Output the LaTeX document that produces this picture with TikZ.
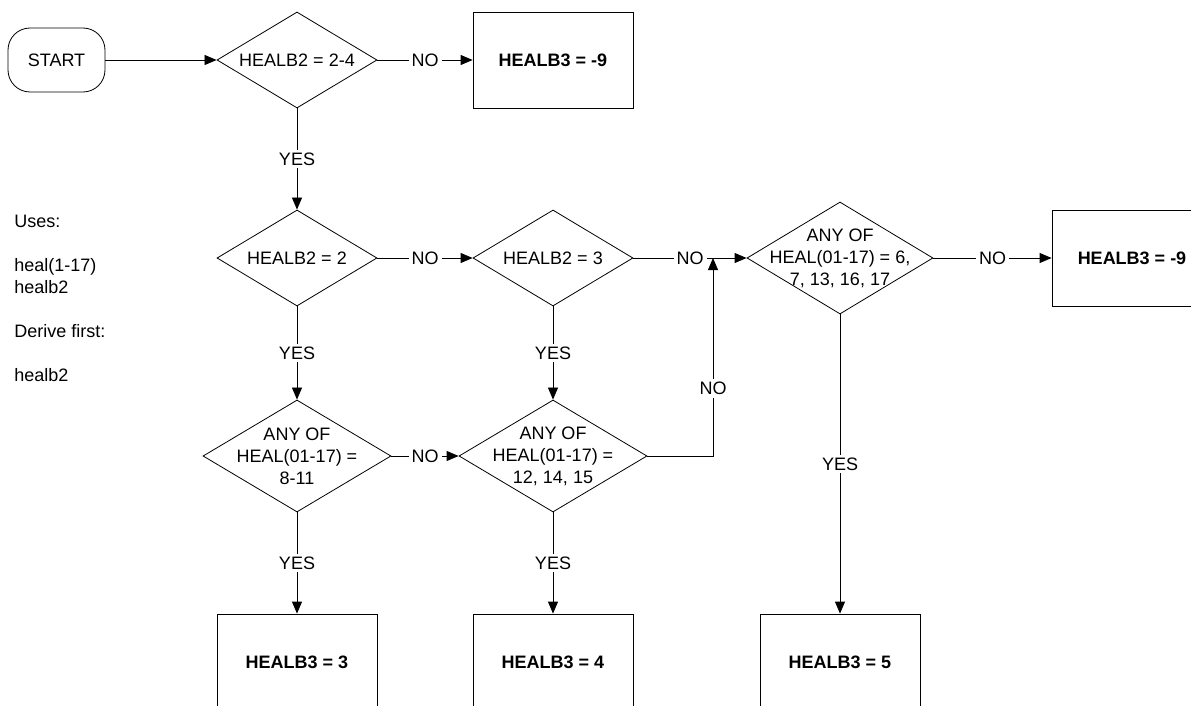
\documentclass[tikz,border=0pt]{standalone}
\usepackage{fontspec}
\setmainfont{Liberation Sans}
\usetikzlibrary{shapes.geometric,arrows.meta}

\begin{document}
\begin{tikzpicture}[x=1pt, y=-1pt, line width=0.8pt,
  font=\fontsize{18}{22}\selectfont,
  decision/.style={draw, diamond, inner sep=0pt},
  dtext/.style={align=center, inner sep=0pt},
  outbox/.style={draw, rectangle, minimum width=160pt, minimum height=96pt,
    inner sep=0pt, font=\fontsize{18}{22}\selectfont\bfseries},
  yesno/.style={fill=white, inner sep=3pt},
  flow/.style={-{Triangle[length=12pt, width=10pt]}}]
  \clip (0,0) rectangle (1191,706);
  \def\ca{297}
  \def\cb{553}
  \def\cc{840}
  % start and first test
  \node[draw, rounded corners=22pt, minimum width=97pt, minimum height=64pt] (start) at (56.5,60) {START};
  \node[decision, minimum width=160pt, minimum height=96pt] (d1) at (\ca,60) {};
  \node[dtext] (d1t) at (d1) {HEALB2 = 2-4};
  \node[outbox] (r1) at (\cb,60) {HEALB3 = -9};
  % second row
  \node[decision, minimum width=160pt, minimum height=96pt] (d2) at (\ca,258) {};
  \node[dtext] (d2t) at (d2) {HEALB2 = 2};
  \node[decision, minimum width=160pt, minimum height=96pt] (d3) at (\cb,258) {};
  \node[dtext] (d3t) at (d3) {HEALB2 = 3};
  \node[decision, minimum width=186pt, minimum height=112pt] (d4) at (\cc,258) {};
  \node[dtext] (d4t) at (d4) {ANY OF\\HEAL(01-17) = 6,\\7, 13, 16, 17};
  \node[outbox] (r2) at (1132,258) {HEALB3 = -9};
  \coordinate (jn) at (713,258);
  % third row
  \node[decision, minimum width=188pt, minimum height=112pt] (d5) at (\ca,456) {};
  \node[dtext] (d5t) at (d5) {ANY OF\\HEAL(01-17) =\\8-11};
  \node[decision, minimum width=188pt, minimum height=112pt] (d6) at (\cb,456) {};
  \node[dtext] (d6t) at (d6) {ANY OF\\HEAL(01-17) =\\12, 14, 15};
  % results
  \node[outbox] (r3) at (\ca,662) {HEALB3 = 3};
  \node[outbox] (r4) at (\cb,662) {HEALB3 = 4};
  \node[outbox] (r5) at (\cc,662) {HEALB3 = 5};
  % notes (base = last line)
  \node[anchor=base west, align=left, inner sep=0pt] (notes) at (14,381)
    {Uses:\\[22pt]heal(1-17)\\healb2\\[22pt]Derive first:\\[22pt]healb2};
  % connectors
  \draw[flow] (start) -- (d1);
  \draw[flow] (d1) -- node[yesno] (n1) {NO} (r1);
  \draw[flow] (d1) -- node[yesno] (y1) {YES} (d2);
  \draw[flow] (d2) -- node[yesno] (n2) {NO} (d3);
  \draw[flow] (d3) -- node[yesno] (n3) {NO} (d4);
  \draw[flow] (d4) -- node[yesno] (n4) {NO} (r2);
  \draw[flow] (d4) -- node[yesno] (y4) {YES} (r5);
  \draw[flow] (d2) -- node[yesno] (y2) {YES} (d5);
  \draw[flow] (d3) -- node[yesno] (y3) {YES} (d6);
  \draw[flow] (d5) -- node[yesno] (n5) {NO} (d6);
  \draw[flow] (d6.east) -| node[yesno, pos=0.67] (n6) {NO} (jn);
  \draw[flow] (d5) -- node[yesno] (y5) {YES} (r3);
  \draw[flow] (d6) -- node[yesno] (y6) {YES} (r4);
\end{tikzpicture}
\end{document}
